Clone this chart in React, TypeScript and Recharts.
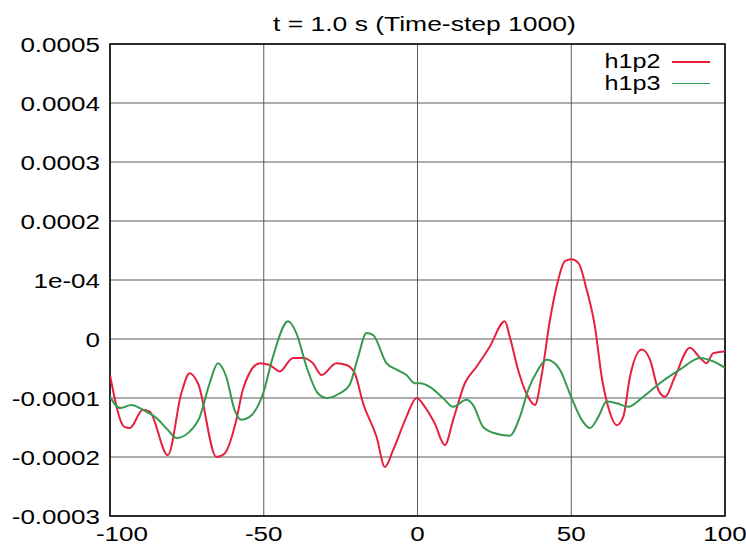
import { LineChart, Line, XAxis, YAxis, CartesianGrid, ReferenceArea } from 'recharts'

const title = 't = 1.0 s (Time-step 1000)'

const xTicks = [-100, -50, 0, 50, 100]
const yTicks = [-0.0003, -0.0002, -0.0001, 0, 0.0001, 0.0002, 0.0003, 0.0004, 0.0005]
const yTickLabels = ['-0.0003', '-0.0002', '-0.0001', '0', '1e-04', '0.0002', '0.0003', '0.0004', '0.0005']

const h1p2X = [
    -100, -95.3, -93.6, -89.3, -87.1, -81.2, -76.8, -74.1, -71.4, -65.4, -62.7, -58.9, -56.8, -51.3, -48.1,
    -44.8, -40.5, -37.2, -34.0, -31.2, -26.4, -23.1, -20.4, -17.7, -13.3, -10.6, -7.9, -3.6, -0.3, 2.4,
    5.6, 8.9, 11.6, 15.4, 19.2, 23.5, 28.4, 30.0, 32.7, 35.4, 38.2, 40.3, 43.1, 45.8, 47.9,
    50.1, 52.3, 55.0, 57.7, 59.9, 62.0, 64.8, 66.9, 69.1, 72.9, 75.6, 78.3, 80.5, 83.7, 88.6,
    91.9, 94.0, 96.2, 100
]
const h1p2Y = [
    -0.000061, -0.000149, -0.000151, -0.00012, -0.000123, -0.000197, -0.000092, -0.000058, -0.000075, -0.0002, -0.000194, -0.000137, -0.000086, -0.000041, -0.000044,
    -0.000055, -0.000032, -0.000032, -0.000041, -0.000061, -0.000041, -0.000044, -0.000058, -0.000109, -0.000166, -0.000217, -0.000188, -0.000132, -0.0001, -0.000115,
    -0.000143, -0.00018, -0.000137, -0.000075, -0.000047, -0.000013, 0.00003, 0.000004, -0.000052, -0.000092, -0.000112, -0.000064, 0.000033, 0.000101, 0.000132,
    0.000135, 0.000129, 0.000084, 0.000021, -0.000064, -0.000115, -0.000146, -0.000132, -0.000064, -0.000018, -0.000035, -0.000086, -0.000098, -0.000064, -0.000015,
    -0.000032, -0.000041, -0.000024, -0.000021
]

const h1p3X = [
    -100, -96.7, -93.1, -89.3, -84.9, -81.2, -78.4, -74.1, -70.8, -67.6, -64.9, -62.2, -59.5, -57.3, -54.6,
    -50.2, -47.0, -42.1, -39.4, -36.1, -32.4, -29.6, -25.3, -22.1, -19.3, -16.6, -14.5, -10.1, -6.8, -3.6,
    -0.9, 0.8, 4.0, 8.3, 11.6, 15.9, 18.1, 21.3, 24.6, 30.0, 33.3, 36.0, 39.2, 42.0, 45.2,
    46.3, 50.1, 53.4, 56.1, 58.8, 61.5, 64.8, 68.5, 73.4, 78.8, 85.3, 91.9, 96.2, 100
]
const h1p3Y = [
    -0.000098, -0.000117, -0.000112, -0.00012, -0.000134, -0.000154, -0.000168, -0.000157, -0.000132, -0.000075, -0.000041, -0.000064, -0.00012, -0.000137, -0.000132,
    -0.000092, -0.00003, 0.00003, 0.00001, -0.000047, -0.000092, -0.0001, -0.000092, -0.000078, -0.00003, 0.00001, 0.000007, -0.000041, -0.000052, -0.000061,
    -0.000075, -0.000075, -0.000081, -0.0001, -0.000115, -0.000103, -0.000112, -0.000149, -0.000159, -0.000164, -0.000132, -0.000086, -0.000052, -0.000035, -0.000044,
    -0.000052, -0.0001, -0.000137, -0.000151, -0.000132, -0.000106, -0.000109, -0.000115, -0.000098, -0.000075, -0.000052, -0.000032, -0.000038, -0.000049
]

const RED = '#e8203f'
const GREEN = '#35994e'
const FONT = '"Liberation Sans", Arial, sans-serif'
// the original's lettering is a stretched sans, so widen glyphs instead of spacing them
const STRETCH = 1.24

const h1p2Data = h1p2X.map((x, i) => ({ x, y: h1p2Y[i] }))
const h1p3Data = h1p3X.map((x, i) => ({ x, y: h1p3Y[i] }))

const yLabel = (v: number) => {
    const i = yTicks.findIndex(t => Math.abs(t - v) < 1e-9)
    return i >= 0 ? yTickLabels[i] : String(v)
}

function XTick({ x, y, payload }: any) {
    // first label gets pushed right so it doesn't hang off the frame
    const shift = payload.value === -100 ? 12 : 0
    return (
        <g transform={`translate(${x + shift},${y}) scale(${STRETCH},1)`}>
            <text x={0} y={0} dy={25} textAnchor="middle" fill="#000" fontSize={21} fontFamily={FONT}>
                {payload.value}
            </text>
        </g>
    )
}

function YTick({ x, y, payload }: any) {
    return (
        <g transform={`translate(${x - 10},${y}) scale(${STRETCH},1)`}>
            <text x={0} y={0} dy={7.5} textAnchor="end" fill="#000" fontSize={21} fontFamily={FONT}>
                {yLabel(payload.value)}
            </text>
        </g>
    )
}

export default function App() {
    return (
        <div style={{ position: 'absolute', left: 0, top: 0, width: 746, height: 560, background: '#fff', fontFamily: FONT }}>
            <div style={{
                position: 'absolute', left: 273, top: 12, fontSize: 21, lineHeight: '24px', color: '#000',
                whiteSpace: 'nowrap', transform: 'scaleX(1.26)', transformOrigin: 'left top'
            }}>
                {title}
            </div>

            <LineChart width={746} height={560} data={h1p2Data} margin={{ top: 44, right: 21, bottom: 0, left: 0 }}>
                <CartesianGrid stroke="#5a5a5a" strokeWidth={1} />
                <XAxis
                    dataKey="x"
                    type="number"
                    domain={[-100, 100]}
                    ticks={xTicks}
                    height={44}
                    axisLine={false}
                    tickLine={false}
                    tickSize={0}
                    tickMargin={0}
                    tick={<XTick />}
                    allowDataOverflow
                />
                <YAxis
                    type="number"
                    domain={[-0.0003, 0.0005]}
                    ticks={yTicks}
                    width={110}
                    axisLine={false}
                    tickLine={false}
                    tickSize={0}
                    tickMargin={0}
                    tick={<YTick />}
                    allowDataOverflow
                />
                <ReferenceArea x1={-100} x2={100} y1={-0.0003} y2={0.0005} fill="none" stroke="#000" strokeWidth={1.5} />
                <Line data={h1p2Data} dataKey="y" type="monotone" stroke={RED} strokeWidth={2} dot={false} isAnimationActive={false} />
                <Line data={h1p3Data} dataKey="y" type="monotone" stroke={GREEN} strokeWidth={2} dot={false} isAnimationActive={false} />
            </LineChart>

            <div style={{ position: 'absolute', right: 36, top: 51, fontSize: 20, color: '#000' }}>
                {[['h1p2', RED], ['h1p3', GREEN]].map(([name, color]) => (
                    <div key={name} style={{ display: 'flex', alignItems: 'center', justifyContent: 'flex-end', height: 21.6 }}>
                        <span style={{ display: 'inline-block', lineHeight: '21.6px', transform: 'scaleX(1.26)', transformOrigin: 'right center' }}>{name}</span>
                        <span style={{ display: 'inline-block', width: 38, height: 1.5, background: color, marginLeft: 12 }} />
                    </div>
                ))}
            </div>
        </div>
    )
}
